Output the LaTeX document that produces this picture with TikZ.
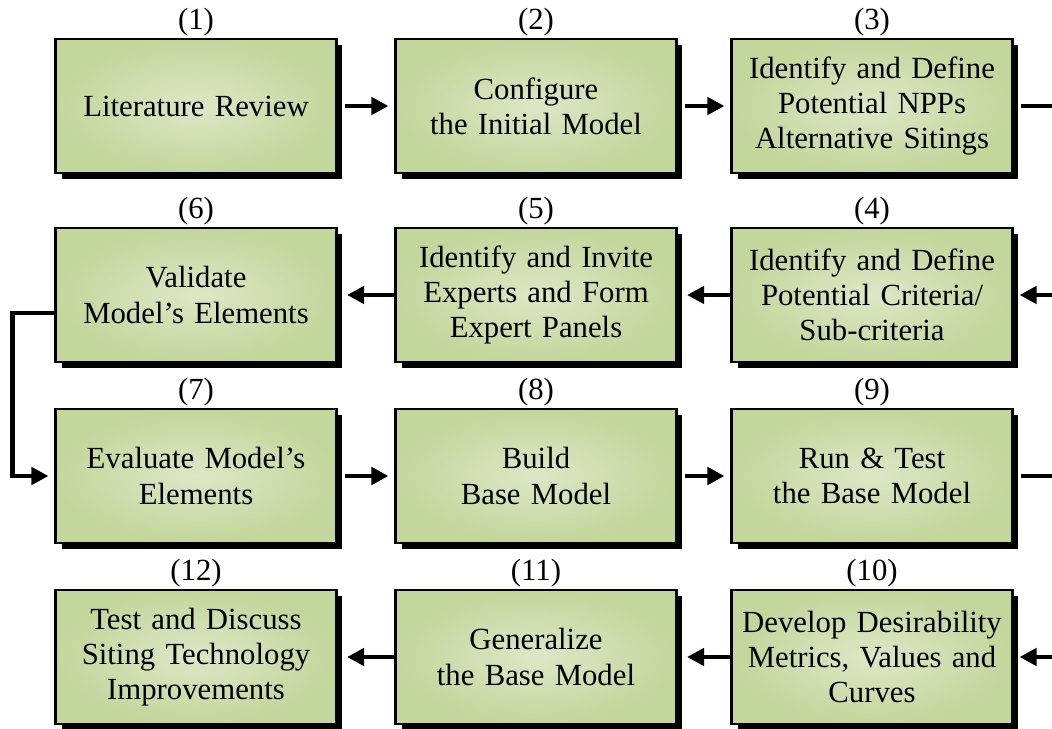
\documentclass[tikz,border=0pt]{standalone}
\usepackage{fontspec}
\setmainfont{Liberation Serif}
\usetikzlibrary{arrows.meta,shadows}

\definecolor{verdeclaro}{HTML}{DDE7C6}
\definecolor{verdeoscuro}{HTML}{C3D69B}

\begin{document}
\begin{tikzpicture}[x=0.02cm, y=-0.02cm,
    paso/.style={draw=black, line width=1.2pt, inner color=verdeclaro, outer color=verdeoscuro,
        drop shadow={shadow xshift=0.12cm, shadow yshift=-0.12cm, opacity=1, fill=black},
        minimum width=5.62cm, minimum height=2.68cm, inner sep=0pt,
        text width=5.5cm, align=center, font=\fontsize{17.5}{20}\selectfont},
    num/.style={font=\fontsize{17.5}{20}\selectfont, inner sep=1pt},
    flecha/.style={line width=2.6pt, -{Triangle[length=0.34cm,width=0.34cm]}},
    haciader/.style={flecha, shorten <=0.14cm, shorten >=0.12cm},
    haciaizq/.style={flecha, shorten >=0.19cm}
]
    % Marco de la figura
    \useasboundingbox (0,0) rectangle (1052,729);

    % Fila 1
    \node[paso, label={[num]above:(1)}] (c1) at (196,106) {Literature Review};
    \node[paso, label={[num]above:(2)}] (c2) at (536,106) {Configure\\the Initial Model};
    \node[paso, label={[num]above:(3)}] (c3) at (872,106) {Identify and Define\\Potential NPPs\\Alternative Sitings};

    % Fila 2
    \node[paso, label={[num]above:(6)}] (c6) at (196,295) {Validate\\Model’s Elements};
    \node[paso, label={[num]above:(5)}] (c5) at (536,295) {Identify and Invite\\Experts and Form\\Expert Panels};
    \node[paso, label={[num]above:(4)}] (c4) at (872,295) {Identify and Define\\Potential Criteria/\\Sub-criteria};

    % Fila 3
    \node[paso, label={[num]above:(7)}] (c7) at (196,476) {Evaluate Model’s\\Elements};
    \node[paso, label={[num]above:(8)}] (c8) at (536,476) {Build\\Base Model};
    \node[paso, label={[num]above:(9)}] (c9) at (872,476) {Run \& Test\\the Base Model};

    % Fila 4
    \node[paso, label={[num]above:(12)}] (c12) at (196,657) {Test and Discuss\\Siting Technology\\Improvements};
    \node[paso, label={[num]above:(11)}] (c11) at (536,657) {Generalize\\the Base Model};
    \node[paso, label={[num]above:(10)}] (c10) at (872,657) {Develop Desirability\\Metrics, Values and\\Curves};

    % Flechas entre pasos
    \draw[haciader] (c1) -- (c2);
    \draw[haciader] (c2) -- (c3);
    \draw[haciaizq, shorten <=0.14cm, shorten >=0.12cm] (c3.east) -- ++(60,0) |- (c4.east);
    \draw[haciaizq] (c4) -- (c5);
    \draw[haciaizq] (c5) -- (c6);
    \draw[flecha, shorten >=0.12cm] ([yshift=-0.36cm]c6.west) -- ++(-42,0) |- (c7.west);
    \draw[haciader] (c7) -- (c8);
    \draw[haciader] (c8) -- (c9);
    \draw[haciaizq, shorten <=0.14cm, shorten >=0.12cm] (c9.east) -- ++(60,0) |- (c10.east);
    \draw[haciaizq] (c10) -- (c11);
    \draw[haciaizq] (c11) -- (c12);

\end{tikzpicture}
\end{document}
